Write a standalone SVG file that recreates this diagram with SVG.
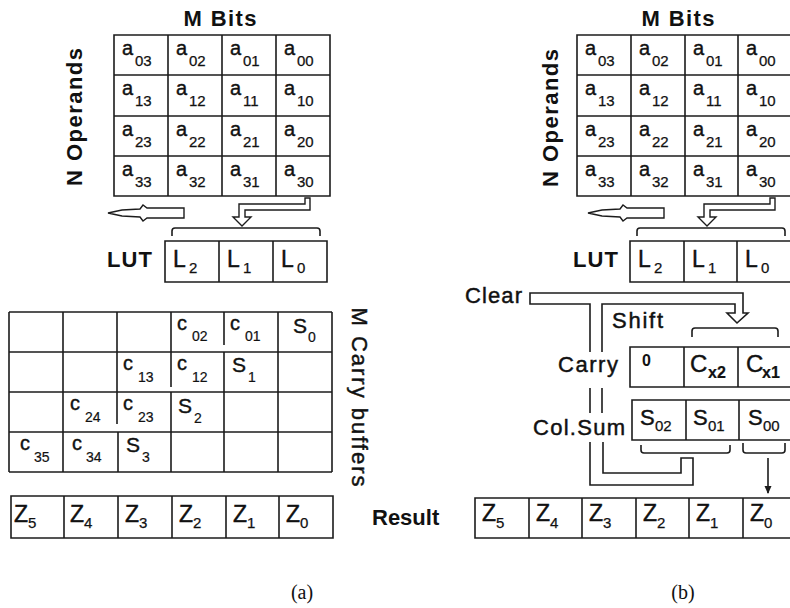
<svg xmlns="http://www.w3.org/2000/svg" width="790" height="608" viewBox="0 0 790 608">
<style>
text{font-family:"Liberation Sans",Arial,sans-serif;fill:#111}
.g{fill:none;stroke:#1c1c1c;stroke-width:1.6}
.w{fill:#fff;stroke:#1c1c1c;stroke-width:1.4}
.hd{font-weight:bold;font-size:22px}
.lb{font-size:22px;stroke:#111;stroke-width:0.45}
.a{font-size:20px;stroke:#111;stroke-width:0.4}
.s{font-size:14px;stroke-width:0.2}
.s15{font-size:15px;stroke-width:0.25}
.L{font-size:23px;stroke:#111;stroke-width:0.45}
.S{font-size:21px;stroke:#111;stroke-width:0.4}
.S22{font-size:22px;stroke:#111;stroke-width:0.4}
.C{font-size:24px;stroke:#111;stroke-width:0.4}
.cap{font-family:"Liberation Serif","Times New Roman",serif;font-size:20px}
</style>
<defs>
<marker id="ah" viewBox="0 0 8 8" refX="7" refY="4" markerWidth="8" markerHeight="8" markerUnits="userSpaceOnUse" orient="auto"><path d="M0,0.5L8,4L0,7.5Z" fill="#1c1c1c"/></marker>
</defs>
<rect width="790" height="608" fill="#fff"/>

<g id="label-a">
<text class="hd" x="220" y="26" text-anchor="middle" textLength="73">M Bits</text>
<text class="hd" transform="translate(82,117) rotate(-90)" text-anchor="middle" textLength="138">N Operands</text>
<text class="hd" x="107" y="267" textLength="45">LUT</text>
<text class="lb" transform="translate(352,397) rotate(90)" text-anchor="middle" font-size="24" textLength="179">M Carry buffers</text>
<text class="hd" x="372" y="525" font-size="20">Result</text>
<text class="cap" x="302" y="599" text-anchor="middle">(a)</text>
</g>

<g id="matrix-a">
<path class="g" d="M114,35H330V196H114Z M168,35V196 M222,35V196 M276,35V196 M114,75H330 M114,116H330 M114,156H330"/>
<text class="a" x="122" y="55">a<tspan class="s15" x="135" y="66">03</tspan></text>
<text class="a" x="176" y="55">a<tspan class="s15" x="189" y="66">02</tspan></text>
<text class="a" x="230" y="55">a<tspan class="s15" x="243" y="66">01</tspan></text>
<text class="a" x="284" y="55">a<tspan class="s15" x="297" y="66">00</tspan></text>
<text class="a" x="122" y="95">a<tspan class="s15" x="135" y="106">13</tspan></text>
<text class="a" x="176" y="95">a<tspan class="s15" x="189" y="106">12</tspan></text>
<text class="a" x="230" y="95">a<tspan class="s15" x="243" y="106">11</tspan></text>
<text class="a" x="284" y="95">a<tspan class="s15" x="297" y="106">10</tspan></text>
<text class="a" x="122" y="136">a<tspan class="s15" x="135" y="147">23</tspan></text>
<text class="a" x="176" y="136">a<tspan class="s15" x="189" y="147">22</tspan></text>
<text class="a" x="230" y="136">a<tspan class="s15" x="243" y="147">21</tspan></text>
<text class="a" x="284" y="136">a<tspan class="s15" x="297" y="147">20</tspan></text>
<text class="a" x="122" y="176">a<tspan class="s15" x="135" y="187">33</tspan></text>
<text class="a" x="176" y="176">a<tspan class="s15" x="189" y="187">32</tspan></text>
<text class="a" x="230" y="176">a<tspan class="s15" x="243" y="187">31</tspan></text>
<text class="a" x="284" y="176">a<tspan class="s15" x="297" y="187">30</tspan></text>
</g>

<g id="lut-a">
<path class="g" d="M165,241H327V282H165Z M219,241V282 M273,241V282"/>
<text class="L" x="173" y="267">L<tspan class="s15" x="189" y="273">2</tspan></text>
<text class="L" x="227" y="267">L<tspan class="s15" x="243" y="273">1</tspan></text>
<text class="L" x="281" y="267">L<tspan class="s15" x="297" y="273">0</tspan></text>
</g>

<g id="carry-buffers-a">
<path class="g" d="M9,312H332 M9,352H332 M9,392H332 M9,432H332 M9,472H332 M9,312V472 M63,312V472 M117,312V424 M118,432V472 M171,312V387 M171,392V472 M224,312V345 M224,352V472 M278,312V472 M332,312V472"/>
<text class="a" x="177" y="330">c<tspan class="s" x="192" y="341">02</tspan></text>
<text class="a" x="230" y="330">c<tspan class="s" x="245" y="341">01</tspan></text>
<text class="S" x="293" y="333">S<tspan class="s" x="308" y="342">0</tspan></text>
<text class="a" x="123" y="370">c<tspan class="s" x="138" y="382">13</tspan></text>
<text class="a" x="177" y="370">c<tspan class="s" x="192" y="382">12</tspan></text>
<text class="S" x="232" y="372">S<tspan class="s" x="248" y="382">1</tspan></text>
<text class="a" x="70" y="410">c<tspan class="s" x="85" y="422">24</tspan></text>
<text class="a" x="123" y="410">c<tspan class="s" x="138" y="422">23</tspan></text>
<text class="S" x="178" y="413">S<tspan class="s" x="194" y="423">2</tspan></text>
<text class="a" x="20" y="450">c<tspan class="s" x="34" y="462">35</tspan></text>
<text class="a" x="72" y="450">c<tspan class="s" x="86" y="462">34</tspan></text>
<text class="S" x="126" y="452">S<tspan class="s" x="142" y="462">3</tspan></text>
</g>

<g id="result-a">
<path class="g" d="M11,496H333V538H11Z M64,496V538 M118,496V538 M172,496V538 M226,496V538 M279,496V538"/>
<text class="L" x="14" y="522">Z<tspan class="s15" x="28" y="528">5</tspan></text>
<text class="L" x="70" y="522">Z<tspan class="s15" x="84" y="528">4</tspan></text>
<text class="L" x="125" y="522">Z<tspan class="s15" x="139" y="528">3</tspan></text>
<text class="L" x="179" y="522">Z<tspan class="s15" x="193" y="528">2</tspan></text>
<text class="L" x="233" y="522">Z<tspan class="s15" x="247" y="528">1</tspan></text>
<text class="L" x="286" y="522">Z<tspan class="s15" x="300" y="528">0</tspan></text>
</g>

<g id="label-b">
<text class="hd" x="678" y="26" text-anchor="middle" textLength="73">M Bits</text>
<text class="hd" transform="translate(558,118) rotate(-90)" text-anchor="middle" textLength="138">N Operands</text>
<text class="hd" x="573" y="267" textLength="45">LUT</text>
<text class="lb" x="465" y="303" textLength="57">Clear</text>
<text class="lb" x="612" y="328" textLength="51">Shift</text>
<text class="lb" x="558" y="372" textLength="60">Carry</text>
<text class="lb" x="533" y="435" textLength="92">Col.Sum</text>
<text class="cap" x="683" y="599" text-anchor="middle">(b)</text>
</g>

<g id="matrix-b">
<path class="g" d="M577,35H792V196H577Z M631,35V196 M685,35V196 M738,35V196 M577,75H792 M577,116H792 M577,156H792"/>
<text class="a" x="585" y="55">a<tspan class="s15" x="598" y="66">03</tspan></text>
<text class="a" x="639" y="55">a<tspan class="s15" x="652" y="66">02</tspan></text>
<text class="a" x="693" y="55">a<tspan class="s15" x="706" y="66">01</tspan></text>
<text class="a" x="746" y="55">a<tspan class="s15" x="759" y="66">00</tspan></text>
<text class="a" x="585" y="95">a<tspan class="s15" x="598" y="106">13</tspan></text>
<text class="a" x="639" y="95">a<tspan class="s15" x="652" y="106">12</tspan></text>
<text class="a" x="693" y="95">a<tspan class="s15" x="706" y="106">11</tspan></text>
<text class="a" x="746" y="95">a<tspan class="s15" x="759" y="106">10</tspan></text>
<text class="a" x="585" y="136">a<tspan class="s15" x="598" y="147">23</tspan></text>
<text class="a" x="639" y="136">a<tspan class="s15" x="652" y="147">22</tspan></text>
<text class="a" x="693" y="136">a<tspan class="s15" x="706" y="147">21</tspan></text>
<text class="a" x="746" y="136">a<tspan class="s15" x="759" y="147">20</tspan></text>
<text class="a" x="585" y="176">a<tspan class="s15" x="598" y="187">33</tspan></text>
<text class="a" x="639" y="176">a<tspan class="s15" x="652" y="187">32</tspan></text>
<text class="a" x="693" y="176">a<tspan class="s15" x="706" y="187">31</tspan></text>
<text class="a" x="746" y="176">a<tspan class="s15" x="759" y="187">30</tspan></text>
</g>

<g id="lut-b">
<path class="g" d="M630,241H792V282H630Z M684,241V282 M737,241V282"/>
<text class="L" x="638" y="267">L<tspan class="s15" x="654" y="273">2</tspan></text>
<text class="L" x="692" y="267">L<tspan class="s15" x="708" y="273">1</tspan></text>
<text class="L" x="745" y="267">L<tspan class="s15" x="761" y="273">0</tspan></text>
</g>

<g id="carry-reg-b">
<path class="g" d="M630,347H792V387H630Z M684,347V387 M738,347V387"/>
<text x="642" y="366" font-size="16" font-weight="bold">0</text>
<text class="C" x="690" y="372">C<tspan x="708" y="378" font-size="16" font-weight="bold" stroke-width="0.2">x2</tspan></text>
<text class="C" x="746" y="372">C<tspan x="762" y="378" font-size="16" font-weight="bold" stroke-width="0.2">x1</tspan></text>
</g>

<g id="colsum-reg-b">
<path class="g" d="M632,400H792V440H632Z M686,400V440 M739,400V440"/>
<text class="S22" x="640" y="425">S<tspan class="s15" x="655" y="431">02</tspan></text>
<text class="S22" x="693" y="425">S<tspan class="s15" x="708" y="431">01</tspan></text>
<text class="S22" x="748" y="425">S<tspan class="s15" x="763" y="431">00</tspan></text>
</g>

<g id="result-b">
<path class="g" d="M475,498H797V538H475Z M529,498V538 M582,498V538 M636,498V538 M689,498V538 M743,498V538"/>
<text class="L" x="482" y="521">Z<tspan class="s15" x="496" y="528">5</tspan></text>
<text class="L" x="536" y="521">Z<tspan class="s15" x="550" y="528">4</tspan></text>
<text class="L" x="589" y="521">Z<tspan class="s15" x="603" y="528">3</tspan></text>
<text class="L" x="643" y="521">Z<tspan class="s15" x="657" y="528">2</tspan></text>
<text class="L" x="696" y="521">Z<tspan class="s15" x="710" y="528">1</tspan></text>
<text class="L" x="750" y="521">Z<tspan class="s15" x="764" y="528">0</tspan></text>
</g>

<g id="connectors">
<path class="w" d="M184,208L147,208L143,205L140,209L122,210L108,213L122,216L140,217L143,221L147,218L184,218Z"/>
<path class="w" d="M305,198L310,198L310,210L245,210L245,217L251,217L242,226L233,217L239,217L239,204L305,204Z"/>
<path class="g" d="M172,236V231Q172,228 175,228H317Q320,228 320,231V236"/>
<path class="w" d="M664,208L627,208L623,205L620,209L602,210L588,213L602,216L620,217L623,221L627,218L664,218Z"/>
<path class="w" d="M770,198L775,198L775,210L710,210L710,217L716,217L707,226L698,217L704,217L704,204L770,204Z"/>
<path class="g" d="M637,236V231Q637,228 640,228H782Q785,228 785,231V236"/>
<path class="g" d="M590,352V304H530V293H743V313H748L737,323L727,313H735V304H602V352"/>
<path class="g" d="M692,337V331Q692,328 695,328H775Q778,328 778,331V337"/>
<path class="g" d="M590,388V413 M602,388V413"/>
<path class="g" d="M590,442V485H693V458H681V473H603V442"/>
<path class="g" d="M641,445V450Q641,453 644,453H727Q730,453 730,450V445"/>
<path class="g" d="M743,443V450Q743,453 746,453H782Q785,453 785,450V443"/>
<path class="g" d="M768,458V493" marker-end="url(#ah)"/>
</g>
</svg>
